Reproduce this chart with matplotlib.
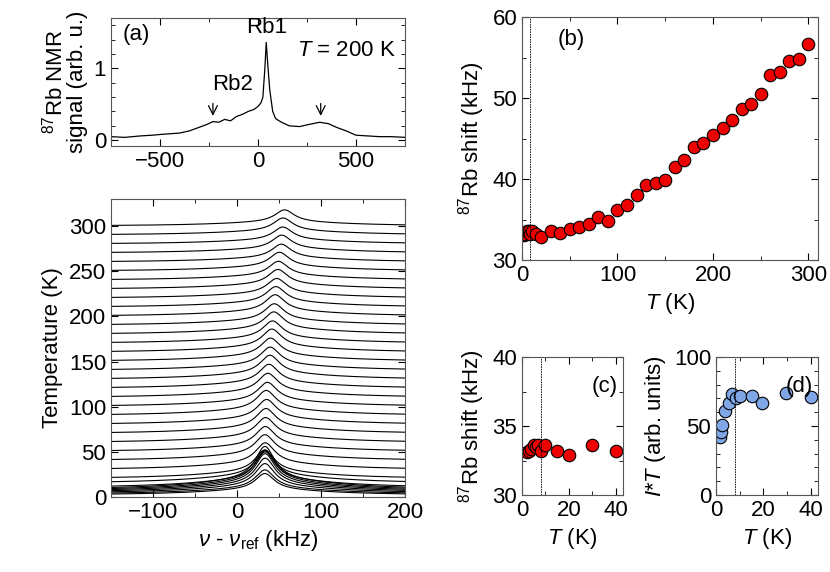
import numpy as np
import matplotlib
matplotlib.use("Agg")
import matplotlib.pyplot as plt
from matplotlib.ticker import MultipleLocator

plt.rcParams['font.family'] = ['Liberation Sans', 'DejaVu Sans']
plt.rcParams['font.size'] = 16
plt.rcParams['mathtext.fontset'] = 'custom'
plt.rcParams['mathtext.it'] = 'Liberation Sans:italic'
plt.rcParams['mathtext.rm'] = 'Liberation Sans'
FS = 16

# (a) spectrum at 200 K
spec_x = [-750, -680, -600, -540, -500, -450, -400, -350, -300, -260, -230, -200, -170, -140, -110, -80, -50, -20, 0, 15, 25, 35, 42, 50, 60, 75, 90, 120, 160, 212, 260, 315, 360, 400, 450, 500, 560, 620, 680, 750]
spec_y = [0.05, 0.04, 0.06, 0.07, 0.08, 0.09, 0.10, 0.13, 0.18, 0.22, 0.26, 0.25, 0.29, 0.27, 0.33, 0.36, 0.40, 0.43, 0.47, 0.52, 0.60, 1.00, 1.36, 1.05, 0.70, 0.40, 0.30, 0.25, 0.20, 0.19, 0.22, 0.25, 0.23, 0.18, 0.13, 0.07, 0.06, 0.05, 0.05, 0.04]

# (b) shift vs T
T_b = [2, 3, 5, 7, 8, 10, 15, 20, 30, 40, 50, 60, 70, 80, 90, 100, 110, 120, 130, 140, 150, 160, 170, 180, 190, 200, 210, 220, 230, 240, 250, 260, 270, 280, 290, 300]
K_b = [33.1, 33.2, 33.6, 33.6, 33.2, 33.6, 33.2, 32.9, 33.6, 33.3, 33.8, 34.1, 34.5, 35.3, 34.8, 36.2, 36.8, 38.0, 39.2, 39.5, 39.9, 41.5, 42.3, 43.9, 44.4, 45.4, 46.3, 47.3, 48.7, 49.3, 50.5, 52.8, 53.2, 54.6, 54.8, 56.7]

# (c) low-T shift
T_c = [2, 3, 4, 5, 6, 7, 8, 10, 15, 20, 30, 40]
K_c = [33.1, 33.2, 33.3, 33.6, 33.5, 33.6, 33.2, 33.6, 33.2, 32.9, 33.6, 33.2]

# (d) intensity * T
T_d = [1.8, 2.0, 2.5, 4.0, 5.4, 6.9, 8.4, 10, 15, 19.5, 29.7, 40]
IT_d = [42, 45.5, 50.4, 61, 67, 73.4, 70, 72, 72, 67, 74, 70.7]

# waterfall: temperature, peak height (K units on the plot)
T_w = [2, 3, 4, 5, 6, 7, 8, 10, 15, 20, 30, 40, 50, 60, 70, 80, 90, 100, 110, 120, 130, 140, 150, 160, 170, 180, 190, 200, 210, 220, 230, 240, 250, 260, 270, 280, 290, 300]
H_w = [24, 27, 33, 38, 42, 45, 48, 40, 36, 32, 30, 29, 28, 28, 28, 28, 28, 27, 27, 27, 27, 26, 26, 26, 25, 25, 24, 24, 23, 22, 22, 21, 21, 20, 20, 19, 19, 18]
shift_w = [33.1, 33.2, 33.3, 33.6, 33.5, 33.6, 33.2, 33.6, 33.2, 32.9, 33.6, 33.3, 33.8, 34.1, 34.5, 35.3, 34.8, 36.2, 36.8, 38.0, 39.2, 39.5, 39.9, 41.5, 42.3, 43.9, 44.4, 45.4, 46.3, 47.3, 48.7, 49.3, 50.5, 52.8, 53.2, 54.6, 54.8, 56.7]

fig = plt.figure(figsize=(8.3, 5.72), dpi=100)
W, H = 830, 572
def ax_at(l, t, r, b):
    return fig.add_axes([l / W, 1 - b / H, (r - l) / W, (b - t) / H])

def style(ax):
    ax.tick_params(which='both', direction='in', top=True, right=True, labelsize=FS)
    ax.tick_params(which='major', length=5)
    ax.tick_params(which='minor', length=3)
    for s in ax.spines.values():
        s.set_color('#555555')

# (a)
ax = ax_at(111, 18, 405, 146)
ax.plot(spec_x, spec_y, color='black', lw=0.9)
ax.set_xlim(-750, 750); ax.set_ylim(-0.08, 1.7)
ax.xaxis.set_major_locator(MultipleLocator(500)); ax.xaxis.set_minor_locator(MultipleLocator(250))
ax.yaxis.set_major_locator(MultipleLocator(1)); ax.yaxis.set_minor_locator(MultipleLocator(0.2))
style(ax)
ax.set_ylabel('$^{87}$Rb NMR\nsignal (arb. u.)', fontsize=FS, linespacing=1.0)
ax.text(0.04, 0.95, '(a)', transform=ax.transAxes, va='top', fontsize=FS)
ax.text(0.97, 0.83, '$T$ = 200 K', transform=ax.transAxes, ha='right', va='top', fontsize=FS)
ax.text(42, 1.42, 'Rb1', ha='center', va='bottom', fontsize=FS)
ax.text(-130, 0.63, 'Rb2', ha='center', va='bottom', fontsize=FS)
ax.annotate('', xy=(-230, 0.30), xytext=(-230, 0.55), arrowprops=dict(arrowstyle='->', lw=0.9))
ax.annotate('', xy=(320, 0.30), xytext=(320, 0.55), arrowprops=dict(arrowstyle='->', lw=0.9))

# waterfall
ax = ax_at(111, 199, 405, 497)
nu = np.linspace(-150, 200, 700)
gam = 14.0
for T, h, s in zip(T_w, H_w, shift_w):
    y = T + h * (0.75 / (1 + ((nu - s) / gam) ** 2) + 0.25 / (1 + ((nu - s) / 90) ** 2))
    ax.plot(nu, y, color='black', lw=0.8)
ax.set_xlim(-150, 200); ax.set_ylim(0, 330)
ax.xaxis.set_major_locator(MultipleLocator(100)); ax.xaxis.set_minor_locator(MultipleLocator(50))
ax.yaxis.set_major_locator(MultipleLocator(50))
style(ax)
ax.set_ylabel('Temperature (K)', fontsize=FS)
ax.set_xlabel(r'$\nu$ - $\nu_{\rm ref}$ (kHz)', fontsize=FS)

marker = dict(marker='o', ms=9, mec='black', mew=0.8, ls='none')
# (b)
ax = ax_at(522, 17, 818, 260)
ax.plot(T_b, K_b, mfc='#ee0000', **marker)
ax.axvline(8, color='black', lw=0.6, ls=(0, (2, 1)))
ax.set_xlim(0, 310); ax.set_ylim(30, 60)
ax.xaxis.set_major_locator(MultipleLocator(100)); ax.xaxis.set_minor_locator(MultipleLocator(50))
ax.yaxis.set_major_locator(MultipleLocator(10)); ax.yaxis.set_minor_locator(MultipleLocator(5))
style(ax)
ax.set_ylabel('$^{87}$Rb shift (kHz)', fontsize=FS)
ax.set_xlabel('$T$ (K)', fontsize=FS)
ax.text(0.12, 0.95, '(b)', transform=ax.transAxes, va='top', fontsize=FS)

# (c)
ax = ax_at(522, 357, 623, 495)
ax.plot(T_c, K_c, mfc='#ee0000', **marker)
ax.axvline(8, color='black', lw=0.6, ls=(0, (2, 1)))
ax.set_xlim(0, 43); ax.set_ylim(30, 40)
ax.xaxis.set_major_locator(MultipleLocator(20)); ax.xaxis.set_minor_locator(MultipleLocator(10))
ax.yaxis.set_major_locator(MultipleLocator(5)); ax.yaxis.set_minor_locator(MultipleLocator(2.5))
style(ax)
ax.set_ylabel('$^{87}$Rb shift (kHz)', fontsize=FS)
ax.set_xlabel('$T$ (K)', fontsize=FS)
ax.text(0.95, 0.86, '(c)', transform=ax.transAxes, ha='right', va='top', fontsize=FS)

# (d)
ax = ax_at(716, 357, 818, 495)
ax.plot(T_d, IT_d, mfc='#7fa7e8', **marker)
ax.axvline(8, color='black', lw=0.6, ls=(0, (2, 1)))
ax.set_xlim(0, 43); ax.set_ylim(0, 100)
ax.xaxis.set_major_locator(MultipleLocator(20)); ax.xaxis.set_minor_locator(MultipleLocator(10))
ax.yaxis.set_major_locator(MultipleLocator(50)); ax.yaxis.set_minor_locator(MultipleLocator(10))
style(ax)
ax.set_ylabel('$I$*$T$ (arb. units)', fontsize=FS)
ax.set_xlabel('$T$ (K)', fontsize=FS)
ax.text(0.95, 0.86, '(d)', transform=ax.transAxes, ha='right', va='top', fontsize=FS)

fig.savefig('out.png', dpi=100)
